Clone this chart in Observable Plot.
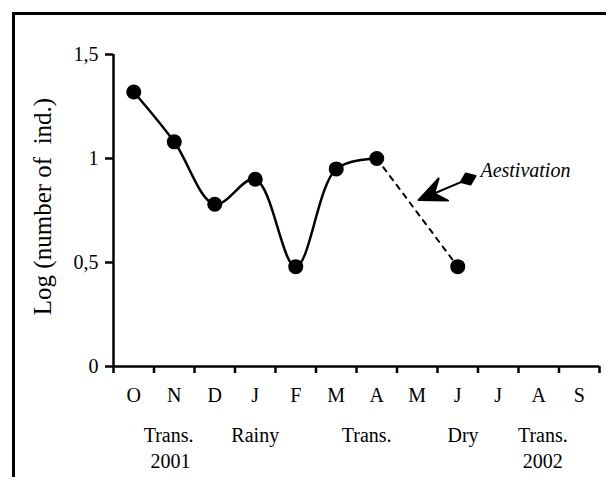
<!DOCTYPE html>
<html>
<head>
<meta charset="utf-8">
<script src="https://cdn.jsdelivr.net/npm/d3@7"></script>
<script src="https://cdn.jsdelivr.net/npm/@observablehq/plot@0.6"></script>
<style>
  html, body { margin: 0; padding: 0; background: #fff; }
  #wrap { position: relative; width: 606px; height: 477px; overflow: hidden; }
  #frame { position: absolute; left: 12px; top: 12px; right: -10px; bottom: -10px;
           border-top: 3px solid #000; border-left: 3px solid #000; pointer-events: none; }
  svg { display: block; }
  #wrap svg, #wrap svg g, #wrap svg text { font-family: "Liberation Serif", "Times New Roman", serif !important; }
</style>
</head>
<body>
<div id="wrap"><div id="frame"></div></div>
<script>
// ---- data ----
const months = ["O","N","D","J","F","M","A","M","J","J","A","S"];
const solidMonthIdx = [0, 1, 2, 3, 4, 5, 6];
const solidValues   = [1.32, 1.08, 0.78, 0.90, 0.48, 0.95, 1.00];
const dashedMonthIdx = [6, 8];
const dashedValues   = [1.00, 0.48];
const yTicks = [0, 0.5, 1, 1.5];
const yTitle = "Log (number of  ind.)";
const seasonNames = ["Trans.", "Rainy", "Trans.", "Dry", "Trans."];
const seasonPos   = [1.36, 3.5, 6.25, 8.63, 10.6];
const yearNames = ["2001", "2002"];
const yearPos   = [1.41, 10.6];
const noteText = "Aestivation";
const noteAt = {x: 9.06, y: 0.94};
const arrowTip = {x: 7.53, y: 0.80};

// ---- derived tables ----
const solid = solidMonthIdx.map((m, i) => ({x: m + 0.5, y: solidValues[i]}));
const dashed = dashedMonthIdx.map((m, i) => ({x: m + 0.5, y: dashedValues[i]}));
const points = [...solid, dashed[1]];
const seasons = seasonNames.map((s, i) => ({x: seasonPos[i], s}));
const years = yearNames.map((s, i) => ({x: yearPos[i], s}));

const font = "Liberation Serif, Times New Roman, serif";

// custom arrow shape: tail diamond at 0, filled barbed head at -l
const barbedArrow = {
  draw(ctx, l) {
    const H = 27, W = 12, N = 10;
    // head
    ctx.moveTo(0, -l);
    ctx.lineTo(W, -l + H);
    ctx.lineTo(0, -l + H - N);
    ctx.lineTo(-W, -l + H);
    ctx.closePath();
    // shaft
    ctx.moveTo(0, -l + H - N);
    ctx.lineTo(0, -12);
    // tail diamond
    ctx.moveTo(0, 0);
    ctx.lineTo(6, -8);
    ctx.lineTo(0, -16);
    ctx.lineTo(-6, -8);
    ctx.closePath();
  }
};

const chart = Plot.plot({
  width: 606,
  height: 477,
  marginLeft: 113,
  marginRight: 7,
  marginTop: 54,
  marginBottom: 111,
  style: {fontFamily: font, fontSize: "20px", color: "#000", background: "transparent"},
  x: {type: "linear", domain: [0, 12]},
  y: {domain: [0, 1.5]},
  marks: [
    // y axis
    Plot.axisY({ticks: yTicks, tickSize: 8, tickPadding: 7, strokeWidth: 2.5, fontFamily: font,
                tickFormat: d => String(d).replace(".", ","), label: null, fontSize: 20}),
    // x axis boundary ticks
    Plot.axisX({ticks: d3.range(13), tickSize: 7, strokeWidth: 2.5, tickFormat: () => "", label: null}),
    // x month labels
    Plot.axisX({ticks: months.map((_, i) => i + 0.5), tickSize: 0, tickPadding: 21, fontFamily: font,
                tickFormat: d => months[Math.round(d - 0.5)], label: null, fontSize: 20}),
    Plot.ruleX([0], {y1: 0, y2: 1.5, strokeWidth: 2.5}),
    Plot.ruleY([0], {x1: 0, x2: 12, strokeWidth: 2.5}),
    // y title
    Plot.text([yTitle], {frameAnchor: "left", text: d => d, rotate: -90, dx: -71, dy: -4, fontFamily: font,
                         fontSize: 25, textAnchor: "middle", lineAnchor: "middle"}),
    // season labels
    Plot.text(seasons, {x: "x", text: "s", frameAnchor: "bottom", dy: 69, lineAnchor: "middle", fontSize: 20, fontFamily: font}),
    Plot.text(years, {x: "x", text: "s", frameAnchor: "bottom", dy: 95, lineAnchor: "middle", fontSize: 20, fontFamily: font}),
    // lines
    Plot.line(solid, {x: "x", y: "y", curve: "catmull-rom", stroke: "#000", strokeWidth: 2.5}),
    Plot.line(dashed, {x: "x", y: "y", stroke: "#000", strokeWidth: 2, strokeDasharray: "5,6"}),
    Plot.dot(points, {x: "x", y: "y", r: 7.5, fill: "#000", stroke: "none"}),
    // annotation
    Plot.vector([arrowTip], {x: "x", y: "y", length: 62, rotate: 247, anchor: "end",
                             shape: barbedArrow, fill: "#000", stroke: "#000", strokeWidth: 2}),
    Plot.text([noteAt], {x: "x", y: "y", text: () => noteText, textAnchor: "start", fontFamily: font,
                         lineAnchor: "middle", fontStyle: "italic", fontSize: 20})
  ]
});
document.getElementById("wrap").prepend(chart);
</script>
</body>
</html>
